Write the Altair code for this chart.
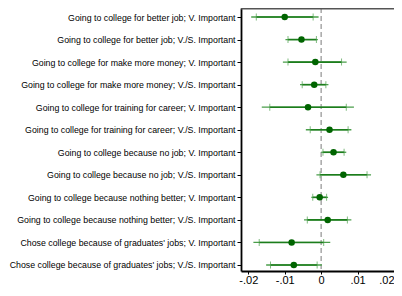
import altair as alt
import pandas as pd

labels = [
    "Going to college for better job; V. Important",
    "Going to college for better job; V./S. Important",
    "Going to college for make more money; V. Important",
    "Going to college for make more money; V./S. Important",
    "Going to college for training for career; V. Important",
    "Going to college for training for career; V./S. Important",
    "Going to college because no job; V. Important",
    "Going to college because no job; V./S. Important",
    "Going to college because nothing better; V. Important",
    "Going to college because nothing better; V./S. Important",
    "Chose college because of graduates' jobs; V. Important",
    "Chose college because of graduates' jobs; V./S. Important",
]
coef = [-0.0100, -0.0054, -0.0016, -0.0019, -0.0036, 0.0023, 0.0034, 0.0061, -0.0004, 0.0018, -0.0081, -0.0075]
lo95 = [-0.0192, -0.0098, -0.0105, -0.0058, -0.0163, -0.0042, 0.0000, -0.0013, -0.0027, -0.0047, -0.0186, -0.0151]
hi95 = [-0.0007, -0.0009, 0.0070, 0.0020, 0.0090, 0.0083, 0.0069, 0.0137, 0.0019, 0.0083, 0.0025, 0.0002]
lo90 = [-0.0178, -0.0091, -0.0091, -0.0052, -0.0141, -0.0030, 0.0005, -0.0003, -0.0023, -0.0038, -0.0170, -0.0139]
hi90 = [-0.0022, -0.0013, 0.0056, 0.0013, 0.0069, 0.0074, 0.0063, 0.0126, 0.0015, 0.0072, 0.0007, -0.0011]
x_ticks = [-0.02, -0.01, 0, 0.01, 0.02]

df = pd.DataFrame({"label": labels, "coef": coef, "lo95": lo95, "hi95": hi95,
                   "lo90": lo90, "hi90": hi90})

W = 153
H = 263

xscale = alt.Scale(domain=[-0.022, 0.02], nice=False, zero=False)
yscale = alt.Scale(type="point", padding=0.333, align=0.6)

xaxis = alt.Axis(
    title=None, values=x_ticks, grid=False,
    labelExpr="datum.value == 0 ? '0' : (datum.value < 0 ? '-' : '') + replace(format(abs(datum.value), '.2f'), '0.', '.')",
    labelFontSize=11, labelColor="black", labelFont="Liberation Sans",
    tickColor="black", tickSize=3, domainColor="black", domainWidth=1.8,
    labelPadding=0, labelFlush=2,
)
yaxis = alt.Axis(
    title=None, grid=False, labelFontSize=8.8, labelColor="black",
    labelFont="Liberation Sans", tickColor="black", tickSize=4,
    domainColor="black", domainWidth=1.8, labelPadding=2, labelLimit=400,
)

base = alt.Chart(df)

y_enc = alt.Y("label:N", sort=labels, scale=yscale, axis=yaxis)

zero_line = alt.Chart(pd.DataFrame({"z": [0]})).mark_rule(
    color="#999999", strokeDash=[5, 3], strokeWidth=1.3
).encode(x=alt.X("z:Q", scale=xscale, axis=xaxis))

ci95 = base.mark_rule(color="#4a9e4a", strokeWidth=1.3).encode(
    x=alt.X("lo95:Q", scale=xscale, axis=xaxis), x2="hi95:Q", y=y_enc)
ci90 = base.mark_rule(color="#1c7d1c", strokeWidth=1.6).encode(
    x=alt.X("lo90:Q", scale=xscale, axis=xaxis), x2="hi90:Q", y=y_enc)
tick_lo = base.mark_tick(color="#4a9e4a", size=7, thickness=1).encode(
    x=alt.X("lo90:Q", scale=xscale, axis=xaxis), y=y_enc)
tick_hi = base.mark_tick(color="#4a9e4a", size=7, thickness=1).encode(
    x=alt.X("hi90:Q", scale=xscale, axis=xaxis), y=y_enc)
pts = base.mark_circle(color="#006400", size=42, opacity=1).encode(
    x=alt.X("coef:Q", scale=xscale, axis=xaxis), y=y_enc)

top_line = alt.Chart(pd.DataFrame({"z": [0]})).mark_rule(
    color="#555555", strokeWidth=1.5
).encode(x=alt.value(0), x2=alt.value(W), y=alt.value(0.75))

chart = alt.layer(zero_line, ci95, ci90, tick_lo, tick_hi, pts, top_line).properties(
    width=W, height=H,
    autosize=alt.AutoSizeParams(type="none"),
    padding={"left": 233, "top": 0, "right": 0, "bottom": 13},
).configure_view(strokeWidth=0)

chart.save("out.html", embed_options={"renderer": "svg", "actions": False})
